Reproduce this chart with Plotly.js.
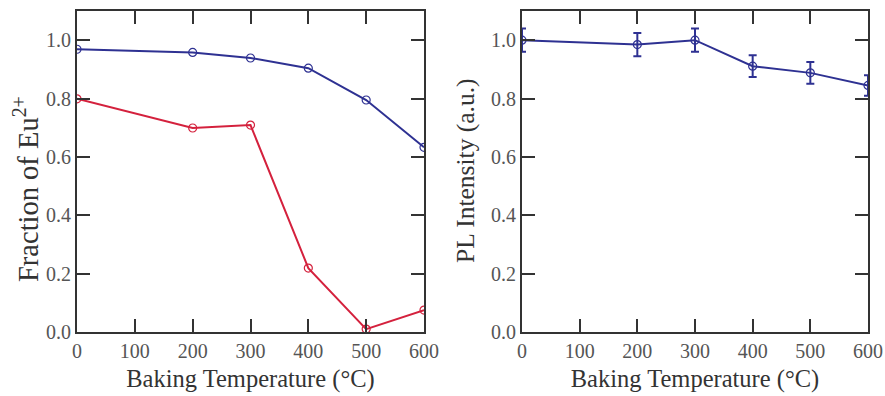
<!DOCTYPE html>
<html><head><meta charset="utf-8">
<script src="https://cdn.plot.ly/plotly-3.0.1.min.js"></script>
<style>html,body{margin:0;padding:0;background:#fff}</style>
</head><body><div id="plot" style="width:885px;height:396px"></div>
<script>
const temps = [0, 200, 300, 400, 500, 600];
const fracBlue = [0.969, 0.958, 0.939, 0.904, 0.795, 0.633];
const fracRed = [0.799, 0.699, 0.709, 0.219, 0.010, 0.075];
const plIntensity = [1.000, 0.985, 1.000, 0.911, 0.888, 0.845];
const plError = [0.040, 0.040, 0.040, 0.037, 0.037, 0.035];
const xTicks = [0, 100, 200, 300, 400, 500, 600];
const yTicks = [0, 0.2, 0.4, 0.6, 0.8, 1.0];
const yTickText = ['0.0', '0.2', '0.4', '0.6', '0.8', '1.0'];
const xTitle = 'Baking Temperature (°C)';
const yTitleLeft = 'Fraction of Eu<sup>2+</sup>';
const yTitleRight = 'PL Intensity (a.u.)';

const blue = '#2e3192';
const red = '#d4213d';
const axisCol = '#333333';
const textCol = '#555555';
const fontFam = '"Liberation Serif", "Times New Roman", serif';

const traces = [
  {x: temps, y: fracBlue, xaxis: 'x', yaxis: 'y', mode: 'lines+markers',
   line: {color: blue, width: 2}, marker: {symbol: 'circle-open', size: 8, color: blue, line: {width: 1.2}}},
  {x: temps, y: fracRed, xaxis: 'x', yaxis: 'y', mode: 'lines+markers',
   line: {color: red, width: 2}, marker: {symbol: 'circle-open', size: 8, color: red, line: {width: 1.2}}},
  {x: temps, y: plIntensity, xaxis: 'x2', yaxis: 'y2', mode: 'lines+markers',
   line: {color: blue, width: 2}, marker: {symbol: 'circle-open', size: 8, color: blue, line: {width: 1.2}},
   error_y: {type: 'data', array: plError, visible: true, color: blue, thickness: 2, width: 4}}
];

function xax(domain, anchor) {
  return {domain: domain, anchor: anchor, range: [0, 600], tickvals: xTicks, ticks: 'inside', ticklen: 13,
    tickwidth: 2, tickcolor: axisCol, showline: true, linecolor: axisCol, linewidth: 2, mirror: 'ticks',
    showgrid: false, zeroline: false, tickfont: {family: fontFam, size: 20, color: textCol},
    title: {text: xTitle, font: {family: fontFam, size: 24.5, color: '#333'}, standoff: 9}};
}
function yax(domain, anchor) {
  return {domain: domain, anchor: anchor, range: [0, 1.1], tickvals: yTicks, ticktext: yTickText, ticks: 'inside', ticklen: 13,
    tickwidth: 2, tickcolor: axisCol, showline: true, linecolor: axisCol, linewidth: 2, mirror: 'ticks',
    showgrid: false, zeroline: false, tickfont: {family: fontFam, size: 20, color: textCol}};
}

const ydom = [1 - 332/396, 1 - 11/396];
const layout = {
  width: 885, height: 396, margin: {l: 0, r: 0, t: 0, b: 0},
  paper_bgcolor: '#fff', plot_bgcolor: '#fff', showlegend: false,
  xaxis: xax([77/885, 424/885], 'y'),
  yaxis: yax(ydom, 'x'),
  xaxis2: xax([522/885, 868/885], 'y2'),
  yaxis2: yax(ydom, 'x2'),
  annotations: [
    {text: yTitleLeft, xref: 'paper', yref: 'paper', x: 26/885, y: 1 - 189/396, xanchor: 'center', yanchor: 'middle',
     textangle: -90, showarrow: false, font: {family: fontFam, size: 28.5, color: '#333'}},
    {text: yTitleRight, xref: 'paper', yref: 'paper', x: 465/885, y: 1 - 171/396, xanchor: 'center', yanchor: 'middle',
     textangle: -90, showarrow: false, font: {family: fontFam, size: 25.5, color: '#333'}}
  ]
};
Plotly.newPlot('plot', traces, layout, {displayModeBar: false, staticPlot: true});
</script></body></html>
